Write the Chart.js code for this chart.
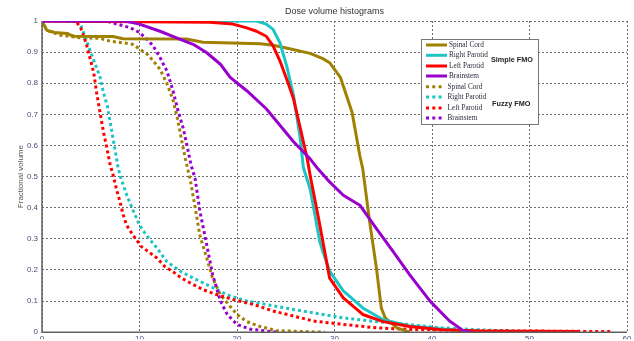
<!DOCTYPE html>
<html>
<head>
<meta charset="utf-8">
<script src="https://cdn.jsdelivr.net/npm/chart.js@4/dist/chart.umd.min.js"></script>
<style>
html,body{margin:0;padding:0;background:#fff;}
canvas{display:block;}
</style>
</head>
<body>
<canvas id="c" width="634" height="341"></canvas>
<script>
// ---- data (dose in Gy, fractional volume) ----
const xTicks = [0, 10, 20, 30, 40, 50, 60];
const yTicks = [0, 0.1, 0.2, 0.3, 0.4, 0.5, 0.6, 0.7, 0.8, 0.9, 1];

const spinalSimple = [[0,1],[0.5,0.97],[1.3,0.963],[2.6,0.96],[2.9,0.955],[3.3,0.951],[7.3,0.95],[8.3,0.943],[14.8,0.942],[16.5,0.932],[22.4,0.927],[23.7,0.922],[25.4,0.911],[27.5,0.896],[28.8,0.879],[29.5,0.866],[30.6,0.819],[31.8,0.707],[32.6,0.567],[32.9,0.525],[33.6,0.356],[34.3,0.206],[34.8,0.078],[35.2,0.046],[36.4,0.014],[37.7,0]];
const rightParotidSimple = [[0,1],[22,1],[23,0.99],[23.7,0.973],[24.4,0.93],[25.1,0.855],[25.8,0.76],[26.5,0.62],[26.8,0.53],[27.5,0.46],[28.5,0.29],[28.8,0.26],[29.5,0.196],[30.9,0.133],[32.9,0.078],[35,0.04],[37.7,0.02],[41,0.01],[43.6,0.005],[46,0]];
const leftParotidSimple = [[0,1],[17.2,0.996],[19.6,0.99],[21,0.978],[22,0.967],[23,0.951],[23.7,0.92],[24.4,0.872],[25.1,0.813],[25.8,0.75],[26.5,0.654],[27.2,0.558],[27.5,0.504],[28.4,0.36],[29.5,0.174],[30.9,0.11],[32.9,0.057],[35,0.034],[37.7,0.018],[41,0.008],[45,0.004],[55,0.002]];
const brainstemSimple = [[0,1],[8.5,1],[10,0.99],[12.1,0.967],[13.8,0.946],[15.5,0.925],[16.9,0.898],[18.3,0.861],[19.3,0.819],[21,0.776],[23,0.718],[24.7,0.654],[25.8,0.612],[26.8,0.58],[27.5,0.557],[28.3,0.525],[29.5,0.483],[30.9,0.44],[32.6,0.408],[34.3,0.333],[36,0.26],[37.7,0.185],[39.8,0.1],[41.8,0.036],[43.2,0.005],[44,0]];

const spinalFuzzy = [[0,1],[0.5,0.97],[1.8,0.955],[3.9,0.946],[6,0.944],[7,0.935],[8.3,0.93],[9.3,0.925],[10,0.91],[10.8,0.893],[11.4,0.872],[12.1,0.845],[12.8,0.8],[13.4,0.75],[13.9,0.686],[14.3,0.62],[14.7,0.558],[15.2,0.49],[15.6,0.42],[16.2,0.31],[16.9,0.238],[17.5,0.174],[18.3,0.12],[19,0.094],[20,0.057],[21,0.034],[22.4,0.018],[24,0.005],[27,0.002],[29,0]];
const rightParotidFuzzy = [[0,1],[3.8,1],[4.3,0.96],[4.9,0.908],[5.4,0.866],[5.95,0.82],[6.3,0.77],[6.7,0.727],[7,0.674],[7.3,0.62],[7.6,0.567],[7.8,0.53],[8,0.504],[8.7,0.44],[9.4,0.387],[10,0.344],[10.7,0.312],[11.8,0.27],[12.8,0.227],[14.2,0.196],[15.5,0.174],[16.9,0.153],[19,0.12],[21,0.1],[23,0.089],[25.8,0.073],[28.2,0.06],[30.9,0.046],[34.3,0.034],[37.7,0.024],[41,0.014],[44.6,0.008],[48,0.004],[50.8,0.001]];
const leftParotidFuzzy = [[0,1],[3.5,1],[4,0.975],[4.3,0.95],[4.6,0.92],[5.3,0.835],[5.6,0.77],[5.95,0.707],[6.3,0.643],[6.6,0.6],[7,0.536],[7.3,0.504],[7.66,0.456],[8,0.419],[8.34,0.376],[8.68,0.344],[9.2,0.318],[9.7,0.296],[10.2,0.275],[10.9,0.259],[11.8,0.238],[12.6,0.211],[13.5,0.193],[14.3,0.174],[15.4,0.155],[16.5,0.137],[17.9,0.121],[19.6,0.105],[21.7,0.089],[23.7,0.068],[25.8,0.052],[27.8,0.036],[30.9,0.025],[34.3,0.014],[37.7,0.009],[44.6,0.005],[58.3,0.002]];
const brainstemFuzzy = [[0,1],[6.6,1],[7.7,0.99],[9,0.979],[10,0.963],[10.8,0.94],[11.4,0.92],[12.1,0.883],[12.8,0.84],[13.4,0.78],[13.9,0.718],[14.5,0.654],[15,0.58],[15.3,0.536],[15.7,0.494],[16.2,0.388],[16.9,0.28],[17.5,0.185],[18.3,0.1],[19,0.057],[20,0.025],[21.3,0.01],[24,0]];

const seriesNames = ['Spinal Cord', 'Right Parotid', 'Left Parotid', 'Brainstem'];
const groupNames = ['Simple FMO', 'Fuzzy FMO'];
const seriesColors = ['#A08000', '#1CC4C4', '#FF0000', '#9900CC'];

const toXY = a => a.map(p => ({x: p[0], y: p[1]}));

const simpleSets = [spinalSimple, rightParotidSimple, leftParotidSimple, brainstemSimple];
const fuzzySets = [spinalFuzzy, rightParotidFuzzy, leftParotidFuzzy, brainstemFuzzy];

const datasets = [];
fuzzySets.forEach((d, i) => datasets.push({
  label: seriesNames[i] + ' (' + groupNames[1] + ')',
  data: toXY(d), borderColor: seriesColors[i], borderWidth: 3,
  borderDash: [3, 3], borderCapStyle: 'butt', pointRadius: 0, tension: 0, fill: false,
  order: 10 - i
}));
simpleSets.forEach((d, i) => datasets.push({
  label: seriesNames[i] + ' (' + groupNames[0] + ')',
  data: toXY(d), borderColor: seriesColors[i], borderWidth: 3,
  pointRadius: 0, tension: 0, fill: false, borderJoinStyle: 'round',
  order: 5 - i
}));

const decor = {
  id: 'decor',
  afterDraw(chart) {
    const ctx = chart.ctx, a = chart.chartArea;
    ctx.save();
    // axis lines (left & bottom)
    ctx.strokeStyle = '#606060'; ctx.lineWidth = 1.5; ctx.setLineDash([]);
    ctx.beginPath();
    ctx.moveTo(a.left, a.top); ctx.lineTo(a.left, a.bottom); ctx.lineTo(a.right, a.bottom);
    ctx.stroke();
    // title
    ctx.fillStyle = '#333';
    ctx.font = '9px "Liberation Sans", Arial, sans-serif';
    ctx.textAlign = 'center'; ctx.textBaseline = 'middle';
    ctx.fillText('Dose volume histograms', (a.left + a.right) / 2, 12);
    // y title
    ctx.save();
    ctx.translate(21, (a.top + a.bottom) / 2);
    ctx.rotate(-Math.PI / 2);
    ctx.fillStyle = '#555';
    ctx.font = '8px "Liberation Sans", Arial, sans-serif';
    ctx.fillText('Fractional volume', 0, 0);
    ctx.restore();
    // legend box
    const L = a.left + 379, T = a.top + 18, R = a.left + 496, B = a.top + 103;
    ctx.fillStyle = '#fff';
    ctx.fillRect(L, T, R - L, B - T);
    ctx.strokeStyle = '#777'; ctx.lineWidth = 1;
    ctx.strokeRect(L + 0.5, T + 0.5, R - L, B - T);
    const rowY = [45, 55.3, 66, 76, 86.7, 97, 108, 118].map(v => v - 21 + a.top);
    ctx.textAlign = 'left';
    let fs = 9;
    ctx.font = fs + 'px "Liberation Serif", "Times New Roman", serif';
    fs = fs * 39 / ctx.measureText('Right Parotid').width;
    const itemFont = fs.toFixed(2) + 'px "Liberation Serif", "Times New Roman", serif';
    for (let g = 0; g < 2; g++) {
      for (let i = 0; i < 4; i++) {
        const y = rowY[g * 4 + i];
        ctx.strokeStyle = seriesColors[i];
        ctx.lineWidth = 3;
        ctx.lineCap = 'butt';
        if (g === 0) { ctx.setLineDash([]); ctx.beginPath(); ctx.moveTo(L + 5, y); ctx.lineTo(L + 26, y); ctx.stroke(); }
        else { ctx.setLineDash([3, 3.3]); ctx.beginPath(); ctx.moveTo(L + 5, y); ctx.lineTo(L + 23, y); ctx.stroke(); }
        ctx.setLineDash([]);
        ctx.fillStyle = '#2a2a3a';
        ctx.font = itemFont;
        ctx.textBaseline = 'middle';
        ctx.fillText(seriesNames[i], L + (g === 0 ? 28 : 26.5), y);
      }
    }
    let gs = 9;
    ctx.font = 'bold ' + gs + 'px "Liberation Sans", Arial, sans-serif';
    gs = gs * 42 / ctx.measureText(groupNames[0]).width;
    ctx.font = 'bold ' + gs.toFixed(2) + 'px "Liberation Sans", Arial, sans-serif';
    ctx.fillStyle = '#222';
    ctx.fillText(groupNames[0], L + 70, 60.3 - 21 + a.top);
    ctx.fillText(groupNames[1], L + 71, 104.3 - 21 + a.top);
    ctx.restore();
  }
};

new Chart(document.getElementById('c'), {
  type: 'line',
  data: { datasets },
  options: {
    responsive: false, animation: false, devicePixelRatio: 1,
    layout: { padding: { top: 21, right: 7, left: 0, bottom: 0 } },
    plugins: { legend: { display: false }, title: { display: false }, tooltip: { enabled: false } },
    scales: {
      x: {
        type: 'linear', min: 0, max: 60,
        afterFit: s => { s.height = 7; },
        afterBuildTicks: s => { s.ticks = xTicks.map(v => ({value: v})); },
        border: { display: false, dash: [2, 2] },
        grid: { color: '#6a6a6a', lineWidth: 1, drawTicks: false },
        ticks: { padding: 2, font: { size: 8, family: '"Liberation Sans", Arial, sans-serif' }, color: '#4a4a78', maxRotation: 0 }
      },
      y: {
        type: 'linear', min: 0, max: 1,
        afterFit: s => { s.width = 42; },
        afterBuildTicks: s => { s.ticks = yTicks.map(v => ({value: v})); },
        border: { display: false, dash: [2, 2] },
        grid: { color: '#6a6a6a', lineWidth: 1, drawTicks: false },
        ticks: { padding: 4, font: { size: 8, family: '"Liberation Sans", Arial, sans-serif' }, color: '#4a4a78',
          callback: v => String(Math.round(v * 10) / 10) }
      }
    }
  },
  plugins: [decor]
});
</script>
</body>
</html>
